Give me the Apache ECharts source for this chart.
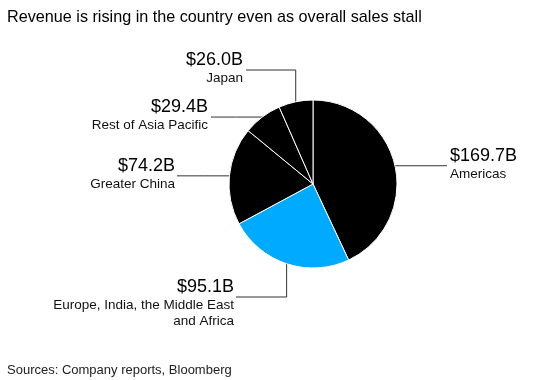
<!DOCTYPE html>
<html>
<head>
<meta charset="utf-8">
<script src="https://cdn.jsdelivr.net/npm/echarts@6/dist/echarts.min.js"></script>
<style>
html,body{margin:0;padding:0;background:#fff;}
#c{width:557px;height:380px;}
</style>
</head>
<body>
<div id="c"></div>
<script>
const titleText = 'Revenue is rising in the country even as overall sales stall';
const sourceText = 'Sources: Company reports, Bloomberg';
const regions = ['Americas', 'Europe, India, the Middle East\nand Africa', 'Greater China', 'Rest of Asia Pacific', 'Japan'];
const revenue = [169.7, 95.1, 74.2, 29.4, 26.0];
const sliceColors = ['#000000', '#00aaff', '#000000', '#000000', '#000000'];

const FONT = '"Liberation Sans", Arial, Helvetica, sans-serif';
const CX = 313, CY = 184, R = 84;

// label placement: type 'h' = horizontal leader, 'v' = vertical then horizontal
const labelPlace = [
  { type: 'h', lineEnd: 447, textX: 450, align: 'left' },
  { type: 'v', lineY: 297, lineEnd: 236, textX: 234, align: 'right' },
  { type: 'h', lineEnd: 177, textX: 175, align: 'right' },
  { type: 'h', lineEnd: 211, textX: 208, align: 'right' },
  { type: 'v', lineY: 70, lineEnd: 246, textX: 243, align: 'right' }
];

const total = revenue.reduce((a, b) => a + b, 0);
function edgePoint(i) {
  let acc = 0;
  for (let k = 0; k < i; k++) acc += revenue[k];
  const mid = (acc + revenue[i] / 2) / total * Math.PI * 2;
  return [CX + R * Math.sin(mid), CY - R * Math.cos(mid)];
}

const chart = echarts.init(document.getElementById('c'), null, { renderer: 'canvas' });
chart.setOption({
  animation: false,
  backgroundColor: '#fff',
  title: [{
    text: titleText,
    left: 2, top: 5,
    textStyle: { fontFamily: FONT, fontSize: 16.2, fontWeight: 'normal', color: '#000' }
  }, {
    text: sourceText,
    left: 2, top: 359,
    textStyle: { fontFamily: FONT, fontSize: 13, fontWeight: 'normal', color: '#222' }
  }],
  series: [{
    type: 'pie',
    center: [CX, CY],
    radius: [0, R],
    startAngle: 90,
    clockwise: true,
    silent: true,
    emphasis: { disabled: true },
    itemStyle: { borderColor: '#fff', borderWidth: 1 },
    data: regions.map((n, i) => ({
      name: n, value: revenue[i], itemStyle: { color: sliceColors[i] }
    })),
    label: {
      show: true,
      position: 'outside',
      formatter: p => '{v|$' + p.value.toFixed(1) + 'B}\n{n|' + p.name.split('\n').join('}\n{n|') + '}',
      rich: {
        v: { fontFamily: FONT, fontSize: 18, lineHeight: 21, color: '#000' },
        n: { fontFamily: FONT, fontSize: 13.5, lineHeight: 16, color: '#111' }
      }
    },
    labelLine: { show: true, length: 5, length2: 5, lineStyle: { color: '#333', width: 1 } },
    labelLayout: function (p) {
      const i = p.dataIndex;
      const e = (p.labelLinePoints && p.labelLinePoints[0]) ? p.labelLinePoints[0] : edgePoint(i);
      const cfg = labelPlace[i];
      let lineY, pts;
      if (cfg.type === 'h') {
        lineY = e[1];
        pts = [[e[0], lineY], [(e[0] + cfg.lineEnd) / 2, lineY], [cfg.lineEnd, lineY]];
      } else {
        lineY = cfg.lineY;
        pts = [[e[0], e[1]], [e[0], lineY], [cfg.lineEnd, lineY]];
      }
      return {
        x: cfg.textX,
        y: lineY - 20.5,
        align: cfg.align,
        verticalAlign: 'top',
        labelLinePoints: pts
      };
    }
  }]
});
</script>
</body>
</html>
